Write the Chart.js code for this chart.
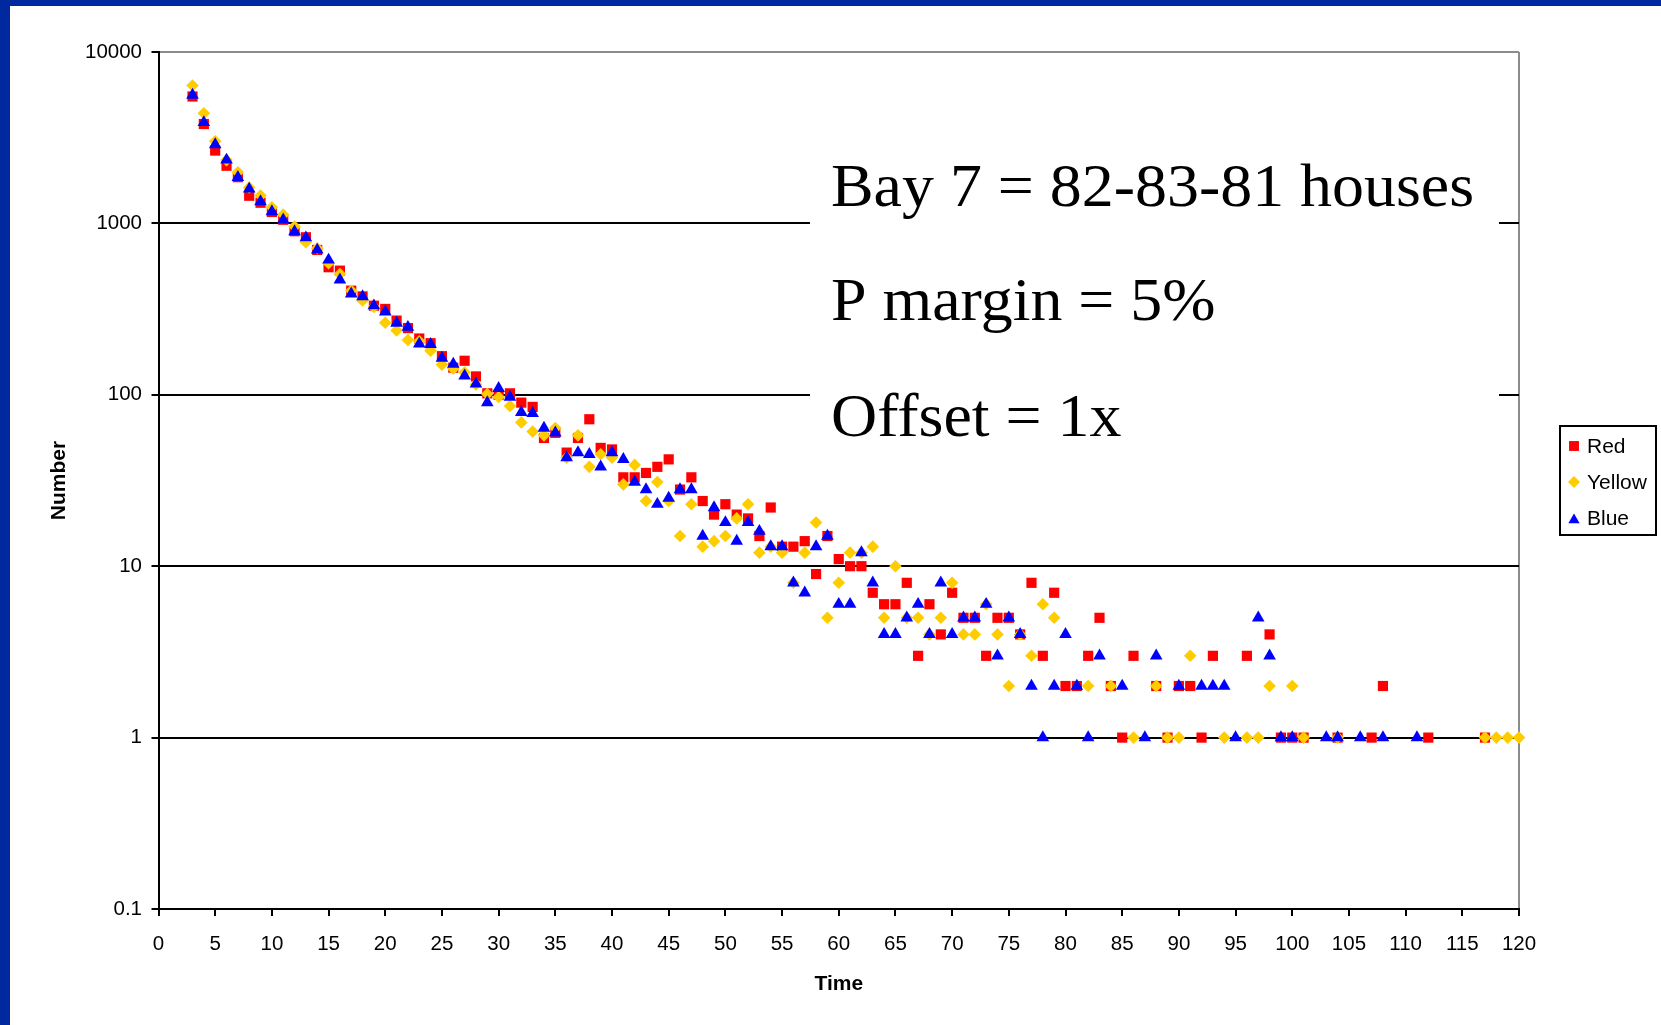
<!DOCTYPE html>
<html><head><meta charset="utf-8">
<script src="https://cdn.jsdelivr.net/npm/chart.js@4/dist/chart.umd.min.js"></script>
<style>
html,body{margin:0;padding:0;background:#fff;width:1661px;height:1025px;overflow:hidden}
#wrap{position:absolute;left:0;top:0;width:1661px;height:1025px}
</style></head><body>
<div id="wrap"><canvas id="c" width="1661" height="1025"></canvas></div>
<script>
const times = [3,4,5,6,7,8,9,10,11,12,13,14,15,16,17,18,19,20,21,22,23,24,25,26,27,28,29,30,31,32,33,34,35,36,37,38,39,40,41,42,43,44,45,46,47,48,49,50,51,52,53,54,55,56,57,58,59,60,61,62,63,64,65,66,67,68,69,70,71,72,73,74,75,76,77,78,79,80,81,82,83,84,85,86,87,88,89,90,91,92,93,94,95,96,97,98,99,100,101,102,103,104,105,106,107,108,109,110,111,112,113,114,115,116,117,118,119,120];
const redValues = [
5500,3800,2660,2170,1860,1450,1320,1166,1050,900,
830,700,555,530,405,375,331,317,271,245,
213,200,168,144,158,128,102,100,102,90,
85,56,60,46,56,72,49,48,33,33,
35,38,42,28,33,24,20,23,20,19,
15,22,13,13,14,9,15,11,10,10,
7,6,6,8,3,6,4,7,5,5,
3,5,5,4,8,3,7,2,2,3,
5,2,1,3,null,2,1,2,2,1,
3,null,null,3,null,4,1,1,1,null,
null,1,null,null,1,2,null,null,null,1,
null,null,null,null,1,null,null,null];
const yellowValues = [
6370,4390,3015,2340,1990,1620,1453,1242,1125,958,
776,716,585,507,405,355,325,263,237,209,
205,181,150,142,135,115,101,97,86,69,
61,58,64,43,58,38,45,43,30,39,
24,31,24,15,23,13,14,15,19,23,
12,13,12,8,12,18,5,8,12,12,
13,5,10,5,5,4,5,8,4,4,
6,4,2,4,3,6,5,null,null,2,
null,2,null,1,null,2,1,1,3,null,
null,1,null,1,1,2,null,2,1,null,
null,1,null,null,null,null,null,null,null,null,
null,null,null,null,1,1,1,1];
const blueValues = [
5600,3880,2884,2345,1858,1589,1340,1172,1048,897,
825,700,612,468,388,374,331,305,262,248,
198,197,164,151,129,116,90,109,97,79,
78,64,60,43,46,45,38,46,42,31,
28,23,25,28,28,15,22,18,14,18,
16,13,13,8,7,13,15,6,6,12,
8,4,4,5,6,4,8,4,5,5,
6,3,5,4,2,1,2,4,2,1,
3,null,2,null,1,3,null,2,null,2,
2,2,1,null,5,3,1,1,null,null,
1,1,null,1,null,1,null,null,1,null,
null,null,null,null,null,null,null,null];
const seriesNames = ['Red','Yellow','Blue'];
const yTickValues = [0.1, 1, 10, 100, 1000, 10000];
const xTickStep = 5;
const noteLines = ['Bay 7 = 82-83-81 houses', 'P margin = 5%', 'Offset = 1x'];

function toPoints(vals){
  const out = [];
  times.forEach((t,i)=>{ if (vals[i] !== null) out.push({x:t, y:vals[i]}); });
  return out;
}

const SANS = '"Liberation Sans", Arial, sans-serif';
const SERIF = '"Liberation Serif", "Times New Roman", serif';

const styles = [
  {name: seriesNames[0], color:'#FF0000', shape:'rect', r:7.2, order:3, vals:redValues},
  {name: seriesNames[1], color:'#FFCC00', shape:'rectRot', r:6.3, order:2, vals:yellowValues},
  {name: seriesNames[2], color:'#0000FF', shape:'triangle', r:7.3, order:1, vals:blueValues}
];

function drawMarker(ctx, shape, r, x, y, color){
  ctx.save();
  ctx.fillStyle = color;
  ctx.beginPath();
  if (shape === 'rect') {
    const s = Math.SQRT1_2 * r;
    ctx.rect(x - s, y - s, 2*s, 2*s);
  } else if (shape === 'rectRot') {
    ctx.moveTo(x - r, y); ctx.lineTo(x, y - r); ctx.lineTo(x + r, y); ctx.lineTo(x, y + r); ctx.closePath();
  } else {
    let a = 0;
    ctx.moveTo(x + Math.sin(a)*r, y - Math.cos(a)*r);
    a += 2*Math.PI/3;
    ctx.lineTo(x + Math.sin(a)*r, y - Math.cos(a)*r);
    a += 2*Math.PI/3;
    ctx.lineTo(x + Math.sin(a)*r, y - Math.cos(a)*r);
    ctx.closePath();
  }
  ctx.fill();
  ctx.restore();
}

const decor = {
  id: 'decor',
  beforeDraw(chart){
    const ctx = chart.ctx;
    ctx.save();
    ctx.fillStyle = '#fff';
    ctx.fillRect(0,0,chart.width,chart.height);
    ctx.fillStyle = '#00289F';
    ctx.fillRect(0,0,chart.width,6);
    ctx.fillRect(0,0,10,chart.height);
    ctx.restore();
  },
  beforeDatasetsDraw(chart){
    const ctx = chart.ctx;
    ctx.save();
    ctx.fillStyle = '#fff';
    ctx.fillRect(810, 140, 689, 320);
    ctx.fillStyle = '#000';
    ctx.font = '61px ' + SERIF;
    ctx.textBaseline = 'alphabetic';
    ctx.textAlign = 'left';
    const sx = 643 / ctx.measureText(noteLines[0]).width;
    const baselines = [206, 320, 436];
    noteLines.forEach((line, i) => {
      ctx.save();
      ctx.translate(831, baselines[i]);
      ctx.scale(sx, 1);
      ctx.fillText(line, 0, 0);
      ctx.restore();
    });
    ctx.restore();
  },
  afterDraw(chart){
    const ctx = chart.ctx;
    ctx.save();
    const lx = 1560, ly = 426, lw = 96, lh = 109;
    ctx.fillStyle = '#fff';
    ctx.fillRect(lx, ly, lw, lh);
    ctx.strokeStyle = '#000';
    ctx.lineWidth = 2;
    ctx.strokeRect(lx, ly, lw, lh);
    ctx.font = '21px ' + SANS;
    ctx.textBaseline = 'middle';
    ctx.textAlign = 'left';
    const rows = [446, 482, 518];
    styles.forEach((s, i) => {
      const ds = chart.data.datasets[i];
      drawMarker(ctx, ds.pointStyle, s.shape === 'triangle' ? 6.5 : (s.shape === 'rect' ? 7 : 6), 1574, rows[i] + (s.shape === 'triangle' ? 2 : 0), ds.pointBackgroundColor);
      ctx.fillStyle = '#000';
      ctx.fillText(ds.label, 1587, rows[i] + 1);
    });
    ctx.restore();
  }
};

new Chart(document.getElementById('c'), {
  type: 'scatter',
  data: {
    datasets: styles.map(s => ({
      label: s.name,
      data: toPoints(s.vals),
      pointStyle: s.shape,
      pointRadius: s.r,
      pointHoverRadius: s.r,
      pointBackgroundColor: s.color,
      pointBorderColor: s.color,
      pointBorderWidth: 0,
      backgroundColor: s.color,
      borderColor: s.color,
      showLine: false,
      clip: false,
      order: s.order
    }))
  },
  options: {
    responsive: false,
    animation: false,
    devicePixelRatio: 1,
    events: [],
    layout: { padding: { left: 10, right: 142, top: 52, bottom: 0 } },
    plugins: { legend: { display: false }, tooltip: { enabled: false }, title: { display: false } },
    scales: {
      x: {
        type: 'linear', min: 0, max: 120,
        ticks: { stepSize: xTickStep, autoSkip: false, maxRotation: 0, minRotation: 0, color: '#000',
                 font: { family: SANS, size: 20.5 }, padding: 16 },
        grid: {
          drawOnChartArea: true,
          color: c => (c.tick && c.tick.value === 120) ? '#8c8c8c' : 'rgba(0,0,0,0)',
          lineWidth: 2, tickLength: 7, tickColor: '#000', tickWidth: 2
        },
        border: { display: true, color: '#000', width: 2 },
        title: { display: true, text: 'Time', color: '#000',
                 font: { family: SANS, size: 21, weight: 'bold' }, padding: { top: 0, bottom: 28 } },
        afterFit: s => { s.height = 116; }
      },
      y: {
        type: 'logarithmic', min: 0.1, max: 10000,
        afterBuildTicks: s => { s.ticks = yTickValues.map(v => ({ value: v })); },
        ticks: { autoSkip: false, color: '#000', font: { family: SANS, size: 20.5 }, padding: 9.5,
                 callback: v => String(v) },
        grid: {
          color: c => {
            if (!c.tick) return '#000';
            if (c.tick.value === 10000) return '#8c8c8c';
            if (c.tick.value === 0.1) return 'rgba(0,0,0,0)';
            return '#000';
          },
          lineWidth: 2, tickLength: 7, tickColor: '#000', tickWidth: 2
        },
        border: { display: true, color: '#000', width: 2 },
        title: { display: true, text: 'Number', color: '#000',
                 font: { family: SANS, size: 21, weight: 'bold' }, padding: { top: 37, bottom: 0 } },
        afterFit: s => { s.width = 148.5; }
      }
    }
  },
  plugins: [decor]
});
</script>
</body></html>
